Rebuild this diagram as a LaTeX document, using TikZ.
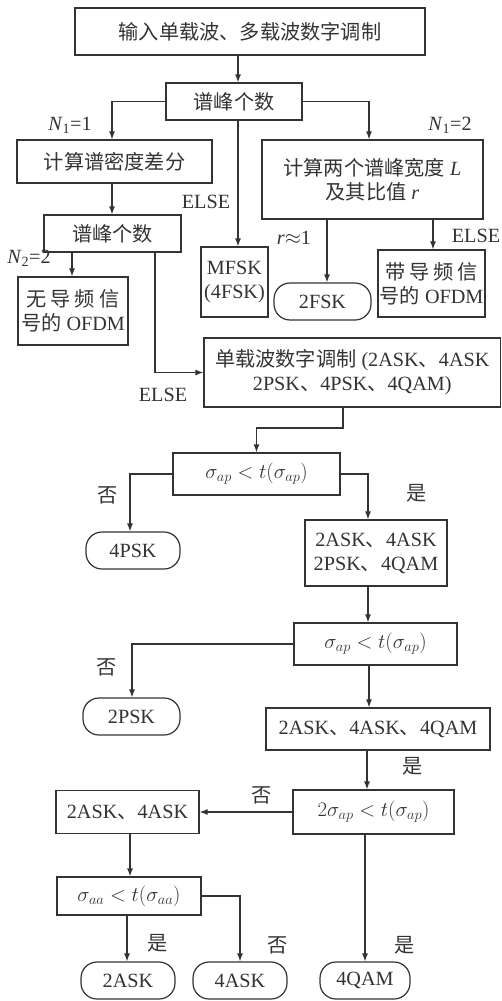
\documentclass[tikz,border=0pt]{standalone}
\usepackage{fontspec}
\setmainfont{Liberation Serif}
\newfontfamily\cjk{Noto Sans CJK SC}
\newcommand\zh[1]{{\cjk #1}}
\usetikzlibrary{arrows.meta}
\definecolor{ink}{HTML}{333333}
\begin{document}
\begin{tikzpicture}[x=1pt,y=-1pt,
  every node/.style={font=\fontsize{20.2}{24}\selectfont, text=ink},
  box/.style={draw=ink, line width=1.2pt, inner sep=0pt, align=center},
  term/.style={box, rounded corners=16pt},
  arr/.style={draw=ink, line width=1.2pt, -{Latex[length=8pt,width=6pt]}},
  lab/.style={inner sep=0pt}]
\useasboundingbox (0,0) rectangle (502,1001);
% vertical line positions
\foreach \xx in {72,112,127,130,132,155,238,327,343,367,368,369,433}
  \coordinate (x\xx) at (\xx,0);
% boxes
\node[box, minimum width=350pt, minimum height=47pt] (top) at (250,31.5) {\zh{输入单载波、多载波数字调制}};
\node[box, minimum width=136pt, minimum height=37pt] (peaks) at (234,101.5) {\zh{谱峰个数}};
\node[box, minimum width=195pt, minimum height=43pt] (diff) at (114.5,161.5) {\zh{计算谱密度差分}};
\node[box, minimum width=221pt, minimum height=79pt] (calcw) at (372.5,179.5) {\zh{计算两个谱峰宽度} \textit{L}\\\zh{及其比值} \textit{r}};
\node[box, minimum width=137pt, minimum height=37pt] (peaks2) at (112.5,233.5) {\zh{谱峰个数}};
\node[box, minimum width=67pt, minimum height=70pt] (mfsk) at (234.5,282) {MFSK\\(4FSK)};
\node[term, minimum width=97pt, minimum height=37pt] (fsk2) at (322.5,301.5) {2FSK};
\node[box, minimum width=107pt, minimum height=67pt] (ofdmp) at (431.5,283.5) {\zh{带\hspace{4pt}导\hspace{4pt}频\hspace{4pt}信}\\\zh{号的} OFDM};
\node[box, minimum width=110pt, minimum height=68pt] (ofdmn) at (73,311) {\zh{无\hspace{4pt}导\hspace{4pt}频\hspace{4pt}信}\\\zh{号的} OFDM};
\node[box, minimum width=296.5pt, minimum height=69pt] (single) at (352.25,372.5) {\zh{单载波数字调制} (2ASK\zh{、}4ASK\\2PSK\zh{、}4PSK\zh{、}4QAM)};
\node[box, minimum width=167pt, minimum height=42pt] (cond1) at (256.5,474) {$\sigma_{ap}<t(\sigma_{ap})$};
\node[term, minimum width=94pt, minimum height=37pt] (psk4) at (133,550.5) {4PSK};
\node[box, minimum width=142pt, minimum height=66pt] (four) at (376,553) {2ASK\zh{、}4ASK\\2PSK\zh{、}4QAM};
\node[box, minimum width=163pt, minimum height=42pt] (cond2) at (375.5,644) {$\sigma_{ap}<t(\sigma_{ap})$};
\node[term, minimum width=97pt, minimum height=37pt] (psk2) at (131.5,716.5) {2PSK};
\node[box, minimum width=224pt, minimum height=42pt] (three) at (378,729) {2ASK\zh{、}4ASK\zh{、}4QAM};
\node[box, minimum width=161pt, minimum height=44pt] (cond3) at (373.5,812) {$2\sigma_{ap}<t(\sigma_{ap})$};
\node[box, minimum width=143pt, minimum height=43pt] (two) at (127.5,812) {2ASK\zh{、}4ASK};
\node[box, minimum width=144pt, minimum height=38pt] (cond4) at (129,896) {$\sigma_{aa}<t(\sigma_{aa})$};
\node[term, minimum width=94pt, minimum height=37pt] (ask2) at (128,980.5) {2ASK};
\node[term, minimum width=94pt, minimum height=37pt] (ask4) at (240,980.5) {4ASK};
\node[term, minimum width=90pt, minimum height=37pt] (qam4) at (365,980.5) {4QAM};
% connectors
\draw[arr] (top.south -| x238) -- (peaks.north -| x238);
\draw[arr] (peaks.west) -| (diff.north -| x112);
\draw[arr] (peaks.east) -| (calcw.north -| x369);
\draw[arr] (peaks.south -| x238) -- (mfsk.north -| x238);
\draw[arr] (diff.south -| x112) -- (peaks2.north -| x112);
\draw[arr] (calcw.south -| x327) -- (fsk2.north -| x327);
\draw[arr] (calcw.south -| x433) -- (ofdmp.north -| x433);
\draw[arr] (peaks2.south -| x72) -- (ofdmn.north -| x72);
\draw[arr] (peaks2.south -| x155) |- (single.west);
\coordinate (j1) at (343,428);
\draw[arr] (single.south -| j1) -- (j1) -| (cond1.north);
\draw[arr] (cond1.west) -| (psk4.north -| x130);
\draw[arr] (cond1.east) -| (four.north -| x368);
\draw[arr] (four.south -| x368) -- (cond2.north -| x368);
\draw[arr] (cond2.west) -| (psk2.north -| x132);
\draw[arr] (cond2.south -| x369) -- (three.north -| x369);
\draw[arr] (three.south -| x367) -- (cond3.north -| x367);
\draw[arr] (cond3.west) -- (two.east);
\draw[arr] (two.south -| x130) -- (cond4.north -| x130);
\draw[arr] (cond4.south -| x127) -- (ask2.north -| x127);
\draw[arr] (cond4.east) -| (ask4.north);
\draw[arr] (cond3.south -| qam4.north) -- (qam4.north);
% labels
\node[lab] (l1) at (70,125) {\textit{N}\textsubscript{1}=1};
\node[lab] (l2) at (450,125) {\textit{N}\textsubscript{1}=2};
\node[lab] (l3) at (206,202) {ELSE};
\node[lab] (l4) at (294,238) {\textit{r}$\approx$1};
\node[lab] (l5) at (476,236) {ELSE};
\node[lab] (l6) at (29,258) {\textit{N}\textsubscript{2}=2};
\node[lab] (l7) at (163,395) {ELSE};
\node[lab] (l8) at (108,495) {\zh{否}};
\node[lab] (l9) at (417,493) {\zh{是}};
\node[lab] (l10) at (107,667) {\zh{否}};
\node[lab] (l11) at (413,766) {\zh{是}};
\node[lab] (l12) at (262,795) {\zh{否}};
\node[lab] (l13) at (158,943) {\zh{是}};
\node[lab] (l14) at (278,945) {\zh{否}};
\node[lab] (l15) at (405,945) {\zh{是}};
\end{tikzpicture}
\end{document}
